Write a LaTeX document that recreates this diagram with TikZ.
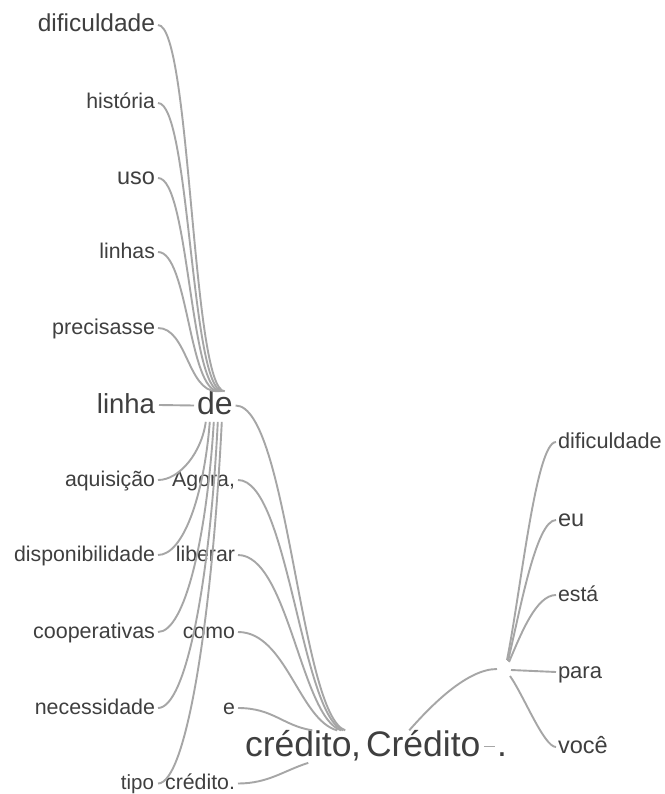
\documentclass[tikz,border=0pt]{standalone}
\usepackage{fontspec}
\setmainfont{Liberation Sans}
\definecolor{txt}{HTML}{3F3F3F}
\definecolor{lnk}{HTML}{A6A6A6}
\newcommand\fsz[1]{\fontsize{#1pt}{#1pt}\selectfont}
\tikzset{
  wrd/.style={inner sep=0pt, outer sep=0pt, text=txt},
  wl/.style={wrd, anchor=base east},
  wr/.style={wrd, anchor=base west},
  lk/.style={draw=lnk, line width=1.9pt},
}
\begin{document}
\begin{tikzpicture}[x=1pt,y=-1pt]
\fill[white] (0,0) rectangle (664,794);
\useasboundingbox (0,0) rectangle (664,794);

% left column (baselines)
\node[wl, font=\fsz{24.5}] (L1) at (155,32) {dificuldade};
\node[wl, font=\fsz{21.3}] (L2) at (155,109) {história};
\node[wl, font=\fsz{23.5}] (L3) at (155,184.5) {uso};
\node[wl, font=\fsz{21.3}] (L4) at (155,258) {linhas};
\node[wl, font=\fsz{21.5}] (L5) at (155,334) {precisasse};
\node[wl, font=\fsz{27.5}] (lin) at (155,413) {linha};
\node[wl, font=\fsz{21.3}] (L6) at (155,486) {aquisição};
\node[wl, font=\fsz{21.3}] (L7) at (155,561) {disponibilidade};
\node[wl, font=\fsz{21.5}] (L8) at (155,638) {cooperativas};
\node[wl, font=\fsz{21.4}] (L9) at (155,714) {necessidade};
\node[wl, font=\fsz{20.5}] (L10) at (154,789.5) {tipo};

% de
\node[wr, font=\fsz{32}] (de) at (197,414.5) {de};

% middle column
\node[wl, font=\fsz{21.3}] (M1) at (235,486) {Agora,};
\node[wl, font=\fsz{21.3}] (M2) at (235,561) {liberar};
\node[wl, font=\fsz{21.3}] (M3) at (235,638) {como};
\node[wl, font=\fsz{21.3}] (M4) at (235,714) {e};
\node[wl, font=\fsz{21.3}] (M5) at (235,789.5) {crédito.};

% root
\node[wr, font=\fsz{35.5}] (cred) at (245,756.5) {crédito};
\node[wr, font=\fsz{35.5}] (comma) at (351,756.5) {,};
\node[wr, font=\fsz{35.5}] (Cred) at (366,756.5) {Crédito};
\node[wr, font=\fsz{35.5}] (per) at (497,756.5) {.};

% right column
\coordinate (blank) at (505,669);
\node[wr, font=\fsz{21.7}] (R1) at (558,448) {dificuldade};
\node[wr, font=\fsz{23.5}] (R2) at (558,526.5) {eu};
\node[wr, font=\fsz{21.3}] (R3) at (558,601) {está};
\node[wr, font=\fsz{22}] (R4) at (558,678) {para};
\node[wr, font=\fsz{23.5}] (R5) at (558,753.5) {você};

% upper left to de
\draw[lk] ([xshift=3pt,yshift=7pt]L1.base east) .. controls +(33,0) and +(-33,0) .. ([xshift=10pt]de.north);
\draw[lk] ([xshift=3pt,yshift=6pt]L2.base east) .. controls +(32,0) and +(-32,0) .. ([xshift=8pt]de.north);
\draw[lk] ([xshift=3pt,yshift=6.5pt]L3.base east) .. controls +(31,0) and +(-31,0) .. ([xshift=6pt]de.north);
\draw[lk] ([xshift=3pt,yshift=6pt]L4.base east) .. controls +(30,0) and +(-30,0) .. ([xshift=4pt]de.north);
\draw[lk] ([xshift=3pt,yshift=6pt]L5.base east) .. controls +(29,0) and +(-29,0) .. ([xshift=2pt]de.north);
\draw[lk] ([xshift=4pt,yshift=8pt]lin.base east) -- ([xshift=-3pt,yshift=9pt]de.base west);
% lower left from de
\draw[lk] ([xshift=-9pt,yshift=-7pt]de.south) .. controls +(-4,30) and +(22,0) .. ([xshift=3pt,yshift=6pt]L6.base east);
\draw[lk] ([xshift=-5pt,yshift=-7pt]de.south) .. controls +(-6,75) and +(25,0) .. ([xshift=3pt,yshift=6pt]L7.base east);
\draw[lk] ([xshift=-1pt,yshift=-7pt]de.south) .. controls +(-7,115) and +(27,0) .. ([xshift=3pt,yshift=6pt]L8.base east);
\draw[lk] ([xshift=3pt,yshift=-7pt]de.south) .. controls +(-8,160) and +(28,0) .. ([xshift=3pt,yshift=6pt]L9.base east);
\draw[lk] ([xshift=7pt,yshift=-7pt]de.south) .. controls +(-10,200) and +(28,0) .. ([xshift=4pt,yshift=6pt]L10.base east);
% to crédito
\draw[lk] ([xshift=3pt,yshift=9pt]de.base east) .. controls +(52,0) and +(-45,-15) .. ([xshift=47pt]cred.north);
\draw[lk] ([xshift=3pt,yshift=6pt]M1.base east) .. controls +(50,0) and +(-42,-15) .. ([xshift=45pt]cred.north);
\draw[lk] ([xshift=3pt,yshift=6pt]M2.base east) .. controls +(50,0) and +(-40,-12) .. ([xshift=43pt]cred.north);
\draw[lk] ([xshift=3pt,yshift=6pt]M3.base east) .. controls +(48,0) and +(-38,-10) .. ([xshift=39pt]cred.north);
\draw[lk] ([xshift=3pt,yshift=6pt]M4.base east) .. controls +(35,0) and +(-30,-5) .. ([xshift=14pt]cred.north);
\draw[lk] ([xshift=3pt,yshift=6pt]M5.base east) .. controls +(30,0) and +(-25,8) .. ([xshift=10pt,yshift=-6pt]cred.south);
% right side
\draw[lk] ([xshift=-14pt]Cred.north) .. controls +(22,-25) and +(-30,0) .. ([xshift=-8pt]blank);
\draw[lk] ([xshift=4pt,yshift=10pt]Cred.base east) -- ([xshift=-2pt,yshift=10pt]per.base west);
\draw[lk] ([xshift=2pt,yshift=9pt]blank) .. controls +(14,-70) and +(-20,0) .. ([xshift=-2pt,yshift=6pt]R1.base west);
\draw[lk] ([xshift=3pt,yshift=8pt]blank) .. controls +(12,-50) and +(-20,0) .. ([xshift=-2pt,yshift=6.5pt]R2.base west);
\draw[lk] ([xshift=4pt,yshift=7pt]blank) .. controls +(12,-28) and +(-20,0) .. ([xshift=-2pt,yshift=6pt]R3.base west);
\draw[lk] ([xshift=6pt,yshift=-1pt]blank) -- ([xshift=-2pt,yshift=6pt]R4.base west);
\draw[lk] ([xshift=5pt,yshift=-7pt]blank) .. controls +(14,20) and +(-12,0) .. ([xshift=-2pt,yshift=6.5pt]R5.base west);
\end{tikzpicture}
\end{document}
